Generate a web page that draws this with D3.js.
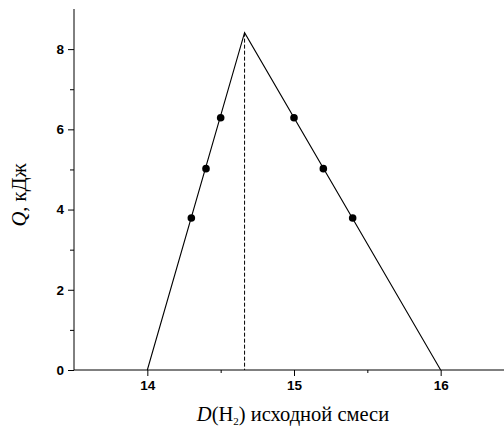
<!DOCTYPE html>
<html><head><meta charset="utf-8">
<script src="https://cdn.jsdelivr.net/npm/d3@7"></script>
<style>body{margin:0;background:#fff}svg{display:block}</style>
</head><body>
<svg id="c" width="504" height="430"></svg>
<script>
// Data
const lineX = [14, 14.663, 16];
const lineY = [0, 8.41, 0];
const pointX = [14.3, 14.4, 14.5, 15.0, 15.2, 15.4];
const pointY = [3.79, 5.02, 6.29, 6.29, 5.02, 3.79];
const peakX = 14.663, peakY = 8.41;
const xTicks = [14, 15, 16];
const xMinor = [14.5, 15.5];
const yTicks = [0, 2, 4, 6, 8];
const yMinor = [1, 3, 5, 7];

const svg = d3.select("#c");
const x = d3.scaleLinear().domain([13.5, 16.5]).range([74, 514]);
const y = d3.scaleLinear().domain([0, 9]).range([370, 9]);

// Axes
const gx = svg.append("g").attr("transform", "translate(0,370)");
gx.call(d3.axisBottom(x).tickValues(xTicks).tickSize(6).tickPadding(4).tickFormat(d3.format("d")));
gx.append("g").call(d3.axisBottom(x).tickValues(xMinor).tickSize(3).tickFormat(""))
  .select(".domain").remove();
const gy = svg.append("g").attr("transform", "translate(74,0)");
gy.call(d3.axisLeft(y).tickValues(yTicks).tickSize(6).tickPadding(4).tickFormat(d3.format("d")));
gy.append("g").call(d3.axisLeft(y).tickValues(yMinor).tickSize(4).tickFormat(""))
  .select(".domain").remove();
svg.selectAll(".domain").attr("stroke", "#000").attr("stroke-width", 1);
svg.selectAll(".tick line").attr("stroke", "#000");
svg.selectAll(".tick text").attr("font-family", "'Liberation Sans', Arial, sans-serif")
  .attr("font-weight", "bold").attr("font-size", 13.5).attr("fill", "#000");
gx.select(".domain").attr("d", `M${x.range()[0]},0H${x.range()[1]}`);
gy.select(".domain").attr("d", `M0,${y.range()[0]}V${y.range()[1]}`);

// Dashed vertical line
svg.append("line")
  .attr("x1", x(peakX)).attr("x2", x(peakX))
  .attr("y1", y(peakY)).attr("y2", y(0))
  .attr("stroke", "#000").attr("stroke-width", 1).attr("stroke-dasharray", "4,2");

// Line
const data = lineX.map((v, i) => [v, lineY[i]]);
svg.append("path").datum(data)
  .attr("fill", "none").attr("stroke", "#000").attr("stroke-width", 1.1)
  .attr("d", d3.line().x(d => x(d[0])).y(d => y(d[1])));

// Points
svg.selectAll("circle.p").data(pointX.map((v, i) => [v, pointY[i]])).enter()
  .append("circle").attr("class", "p")
  .attr("cx", d => x(d[0])).attr("cy", d => y(d[1])).attr("r", 3.8).attr("fill", "#000");

// Axis titles
const xt = svg.append("text").attr("x", 293).attr("y", 421).attr("text-anchor", "middle")
  .attr("font-family", "'Liberation Serif', 'Times New Roman', serif").attr("font-size", 20.5).attr("fill", "#000");
xt.append("tspan").attr("font-style", "italic").text("D");
xt.append("tspan").text("(H");
xt.append("tspan").attr("font-size", 11).attr("dy", 4).text("2");
xt.append("tspan").attr("dy", -4).text(") исходной смеси");

const yt = svg.append("text").attr("transform", "translate(26,195) rotate(-90)").attr("text-anchor", "middle")
  .attr("font-family", "'Liberation Serif', 'Times New Roman', serif").attr("font-size", 20.5).attr("fill", "#000");
yt.append("tspan").attr("font-style", "italic").text("Q");
yt.append("tspan").text(", кДж");
</script>
</body></html>
